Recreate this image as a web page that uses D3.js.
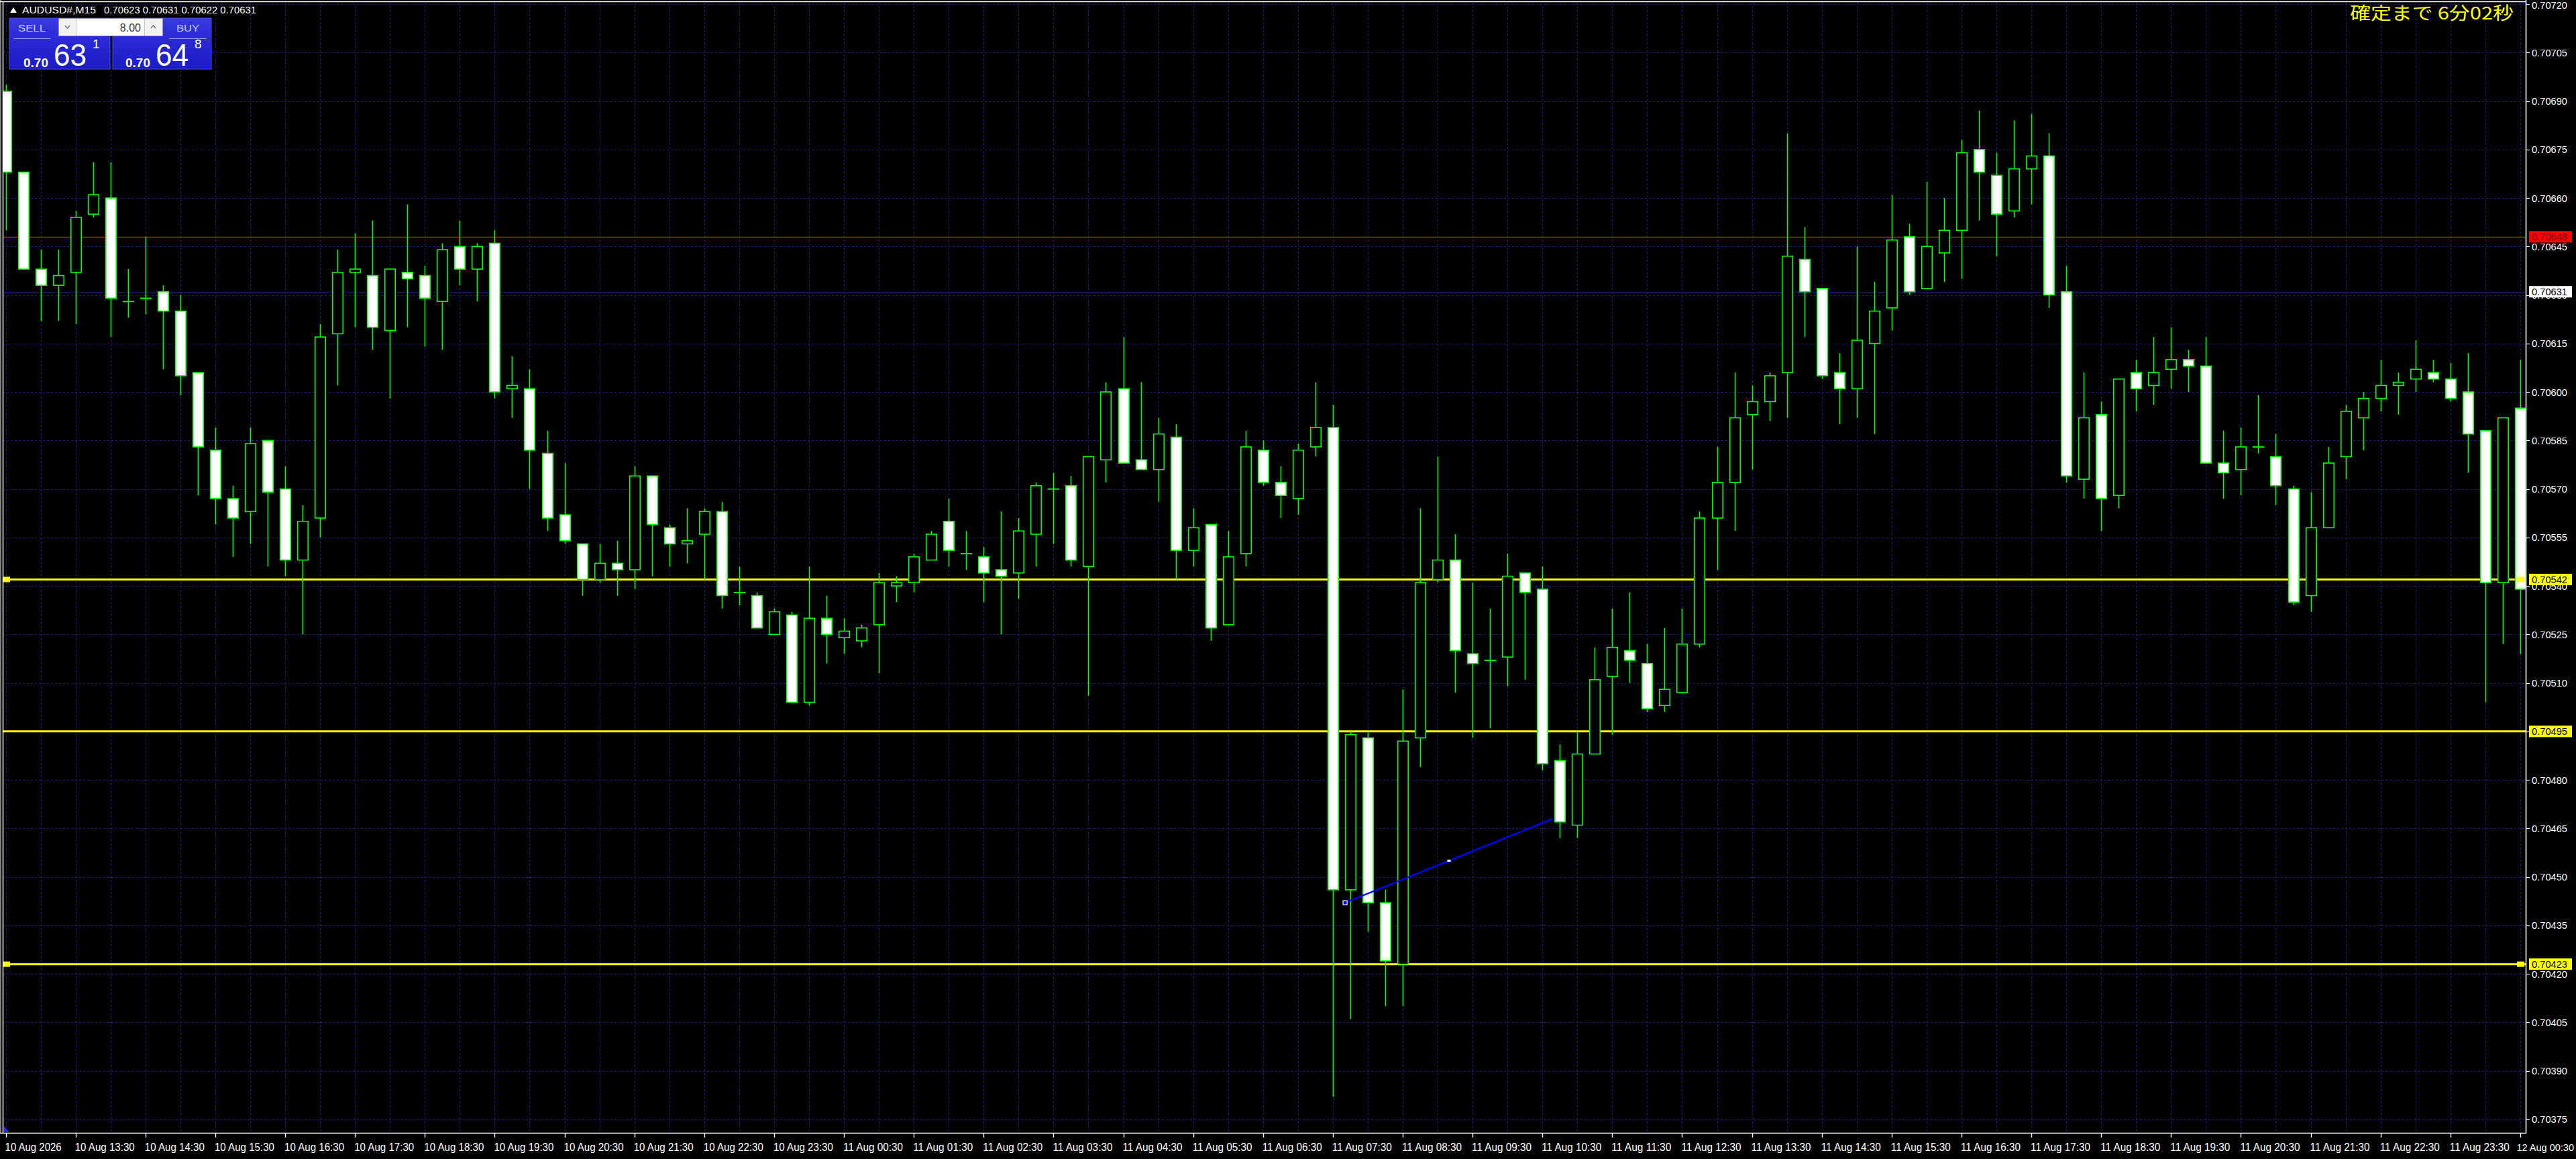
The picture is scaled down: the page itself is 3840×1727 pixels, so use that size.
<!DOCTYPE html>
<html><head><meta charset="utf-8">
<script src="https://cdn.jsdelivr.net/npm/d3@7"></script>
<style>html,body{margin:0;padding:0;background:#000;overflow:hidden}svg{display:block}</style>
</head><body><svg id="c" width="3840" height="1727"></svg>
<script>
// ---------------- DATA ----------------
const symbolTitle = "AUDUSD#,M15";
const headerQuote = "0.70623 0.70631 0.70622 0.70631";
const startTime = "2026-08-10T12:30:00"; // first visible M15 bar
const open = [0.70693,0.70668,0.70638,0.70633,0.70637,0.70655,0.70660,0.70628,0.70629,0.70631,
0.70625,0.70606,0.70582,0.70567,0.70563,0.70585,0.70570,0.70548,0.70561,0.70618,
0.70637,0.70636,0.70619,0.70637,0.70636,0.70628,0.70645,0.70638,0.70646,0.70601,
0.70601,0.70581,0.70562,0.70553,0.70542,0.70547,0.70545,0.70574,0.70558,0.70553,
0.70556,0.70563,0.70538,0.70537,0.70525,0.70531,0.70504,0.70530,0.70524,0.70523,
0.70528,0.70540,0.70541,0.70548,0.70560,0.70550,0.70549,0.70545,0.70544,0.70556,
0.70570,0.70571,0.70546,0.70579,0.70601,0.70579,0.70576,0.70586,0.70551,0.70559,
0.70528,0.70550,0.70582,0.70572,0.70567,0.70583,0.70589,0.70446,0.70493,0.70442,
0.70423,0.70493,0.70542,0.70548,0.70519,0.70517,0.70518,0.70544,0.70539,0.70486,
0.70466,0.70488,0.70512,0.70520,0.70516,0.70503,0.70507,0.70522,0.70561,0.70572,
0.70593,0.70597,0.70606,0.70641,0.70632,0.70606,0.70601,0.70615,0.70626,0.70648,
0.70632,0.70643,0.70650,0.70675,0.70667,0.70656,0.70669,0.70673,0.70631,0.70573,
0.70593,0.70568,0.70606,0.70602,0.70607,0.70610,0.70608,0.70578,0.70576,0.70583,
0.70580,0.70570,0.70537,0.70558,0.70580,0.70592,0.70598,0.70602,0.70604,0.70606,
0.70604,0.70600,0.70588,0.70541,0.70595];
const high = [0.70695,0.70668,0.70644,0.70644,0.70656,0.70671,0.70671,0.70638,0.70648,0.70633,
0.70630,0.70606,0.70589,0.70571,0.70589,0.70585,0.70577,0.70565,0.70621,0.70644,
0.70649,0.70653,0.70638,0.70658,0.70639,0.70646,0.70653,0.70646,0.70650,0.70611,
0.70607,0.70588,0.70578,0.70553,0.70553,0.70554,0.70577,0.70574,0.70559,0.70564,
0.70564,0.70566,0.70546,0.70538,0.70533,0.70532,0.70546,0.70537,0.70530,0.70528,
0.70544,0.70543,0.70550,0.70557,0.70567,0.70557,0.70552,0.70563,0.70561,0.70572,
0.70575,0.70574,0.70580,0.70603,0.70617,0.70603,0.70592,0.70590,0.70564,0.70559,
0.70557,0.70588,0.70585,0.70577,0.70584,0.70603,0.70596,0.70495,0.70495,0.70446,
0.70508,0.70564,0.70580,0.70556,0.70541,0.70533,0.70550,0.70544,0.70546,0.70491,
0.70495,0.70521,0.70533,0.70538,0.70522,0.70527,0.70533,0.70563,0.70583,0.70606,
0.70602,0.70606,0.70680,0.70651,0.70632,0.70612,0.70645,0.70634,0.70661,0.70652,
0.70665,0.70660,0.70678,0.70687,0.70674,0.70684,0.70686,0.70680,0.70639,0.70606,
0.70597,0.70604,0.70610,0.70617,0.70620,0.70613,0.70617,0.70588,0.70589,0.70599,
0.70587,0.70571,0.70569,0.70583,0.70596,0.70600,0.70610,0.70606,0.70616,0.70610,
0.70609,0.70612,0.70588,0.70592,0.70610];
const low = [0.70650,0.70638,0.70622,0.70622,0.70621,0.70654,0.70617,0.70623,0.70624,0.70607,
0.70599,0.70568,0.70559,0.70549,0.70553,0.70546,0.70543,0.70525,0.70555,0.70602,
0.70620,0.70613,0.70598,0.70620,0.70614,0.70613,0.70633,0.70628,0.70598,0.70592,
0.70570,0.70557,0.70553,0.70537,0.70541,0.70537,0.70539,0.70543,0.70546,0.70547,
0.70542,0.70533,0.70534,0.70527,0.70525,0.70504,0.70503,0.70516,0.70519,0.70521,
0.70513,0.70535,0.70538,0.70548,0.70546,0.70545,0.70535,0.70525,0.70536,0.70546,
0.70553,0.70546,0.70506,0.70572,0.70578,0.70576,0.70566,0.70542,0.70546,0.70523,
0.70528,0.70546,0.70571,0.70561,0.70562,0.70580,0.70382,0.70406,0.70433,0.70410,
0.70410,0.70484,0.70541,0.70507,0.70493,0.70496,0.70509,0.70511,0.70483,0.70462,
0.70462,0.70488,0.70494,0.70510,0.70501,0.70501,0.70507,0.70521,0.70545,0.70557,
0.70576,0.70591,0.70592,0.70617,0.70604,0.70590,0.70592,0.70587,0.70619,0.70630,
0.70632,0.70634,0.70635,0.70653,0.70642,0.70654,0.70658,0.70626,0.70572,0.70567,
0.70557,0.70564,0.70594,0.70596,0.70601,0.70600,0.70578,0.70567,0.70568,0.70581,
0.70565,0.70534,0.70532,0.70558,0.70573,0.70582,0.70594,0.70593,0.70600,0.70603,
0.70597,0.70575,0.70504,0.70522,0.70519];
const close = [0.70668,0.70638,0.70633,0.70636,0.70654,0.70661,0.70629,0.70628,0.70629,0.70625,
0.70605,0.70583,0.70567,0.70561,0.70584,0.70569,0.70548,0.70560,0.70617,0.70637,
0.70638,0.70620,0.70638,0.70635,0.70629,0.70644,0.70638,0.70645,0.70600,0.70602,
0.70582,0.70561,0.70554,0.70542,0.70547,0.70545,0.70574,0.70559,0.70553,0.70554,
0.70563,0.70537,0.70538,0.70527,0.70532,0.70504,0.70530,0.70525,0.70526,0.70527,
0.70541,0.70541,0.70549,0.70556,0.70551,0.70550,0.70544,0.70543,0.70557,0.70571,
0.70570,0.70548,0.70580,0.70600,0.70578,0.70576,0.70587,0.70551,0.70558,0.70527,
0.70549,0.70583,0.70572,0.70568,0.70582,0.70589,0.70446,0.70494,0.70442,0.70424,
0.70492,0.70541,0.70548,0.70520,0.70516,0.70517,0.70543,0.70538,0.70485,0.70467,
0.70488,0.70511,0.70521,0.70517,0.70502,0.70508,0.70522,0.70561,0.70572,0.70592,
0.70597,0.70605,0.70642,0.70631,0.70605,0.70601,0.70616,0.70625,0.70647,0.70631,
0.70645,0.70650,0.70674,0.70668,0.70655,0.70669,0.70673,0.70630,0.70574,0.70592,
0.70567,0.70604,0.70601,0.70606,0.70610,0.70608,0.70578,0.70575,0.70583,0.70583,
0.70571,0.70535,0.70558,0.70578,0.70594,0.70598,0.70602,0.70603,0.70607,0.70604,
0.70598,0.70587,0.70541,0.70592,0.70539];
const priceTicks = [0.70375,0.70390,0.70405,0.70420,0.70435,0.70450,0.70465,0.70480,0.70495,0.70510,
0.70525,0.70540,0.70555,0.70570,0.70585,0.70600,0.70615,0.70630,0.70645,0.70660,0.70675,0.70690,0.70705,0.70720];
const timeTickLabels = ["10 Aug 2026","10 Aug 13:30","10 Aug 14:30","10 Aug 15:30","10 Aug 16:30","10 Aug 17:30",
"10 Aug 18:30","10 Aug 19:30","10 Aug 20:30","10 Aug 21:30","10 Aug 22:30","10 Aug 23:30",
"11 Aug 00:30","11 Aug 01:30","11 Aug 02:30","11 Aug 03:30","11 Aug 04:30","11 Aug 05:30",
"11 Aug 06:30","11 Aug 07:30","11 Aug 08:30","11 Aug 09:30","11 Aug 10:30","11 Aug 11:30",
"11 Aug 12:30","11 Aug 13:30","11 Aug 14:30","11 Aug 15:30","11 Aug 16:30","11 Aug 17:30",
"11 Aug 18:30","11 Aug 19:30","11 Aug 20:30","11 Aug 21:30","11 Aug 22:30","11 Aug 23:30","12 Aug 00:30"];
const yellowLevels = [0.70542, 0.70495, 0.70423];
const anchoredLevels = [0.70542, 0.70423];
const redLevel = 0.70648;
const bidPrice = 0.70631;
const trendBars = [76.7, 88.6];      // bar index (fractional) of trend line ends
const trendPrices = [0.70442, 0.70468];
const sellPrice = ["0.70", "63", "1"];
const buyPrice = ["0.70", "64", "8"];
const lotSize = "8.00";
const countdown = "確定まで 6分02秒";

// ---------------- SCALES ----------------
const svg = d3.select("#c");
const L = 4, T = 3, R = 3765, B = 1688;
const t0 = new Date(startTime);
const times = open.map((_, i) => d3.timeMinute.offset(t0, 15 * i));
const x = d3.scaleTime().domain([times[0], times[times.length - 1]]).range([8.6, 3756.9]);
const y = d3.scaleLinear().domain([0.70375, 0.70690]).range([1667.9, 150.5]);
const tAt = idx => new Date(t0.getTime() + idx * 15 * 60000);
const px = v => Math.round(v) + 0.5;

const defs = svg.append("defs");
defs.append("clipPath").attr("id", "plotClip").append("rect")
  .attr("x", L + 1).attr("y", T + 1).attr("width", R - L - 1).attr("height", B - T - 1);
const grad = defs.append("linearGradient").attr("id", "panelGrad").attr("x1", 0).attr("y1", 0).attr("x2", 0).attr("y2", 1);
grad.append("stop").attr("offset", "0%").attr("stop-color", "#3a3ae2");
grad.append("stop").attr("offset", "40%").attr("stop-color", "#2a2ad6");
grad.append("stop").attr("offset", "100%").attr("stop-color", "#1c1cc6");

svg.append("rect").attr("width", 3840).attr("height", 1727).attr("fill", "#000");

const plot = svg.append("g").attr("clip-path", "url(#plotClip)");

// grid
const gridColor = "#1c1c7a";
plot.append("g").selectAll("line").data(priceTicks).join("line")
  .attr("x1", L).attr("x2", R).attr("y1", d => px(y(d))).attr("y2", d => px(y(d)))
  .attr("stroke", gridColor).attr("stroke-width", 1.2).attr("stroke-dasharray", "3 3");
plot.append("g").selectAll("line").data(times.filter((d, i) => i % 2 === 0)).join("line")
  .attr("x1", d => px(x(d))).attr("x2", d => px(x(d))).attr("y1", T).attr("y2", B)
  .attr("stroke", gridColor).attr("stroke-width", 1.2).attr("stroke-dasharray", "3 3");

// bid line, red level, yellow levels
plot.append("line").attr("x1", L).attr("x2", R).attr("y1", px(y(bidPrice))).attr("y2", px(y(bidPrice)))
  .attr("stroke", "#16166c").attr("stroke-width", 1.2);
plot.append("line").attr("x1", L).attr("x2", R).attr("y1", px(y(redLevel))).attr("y2", px(y(redLevel)))
  .attr("stroke", "#cc1010").attr("stroke-width", 1.6);
plot.append("g").selectAll("line").data(yellowLevels).join("line")
  .attr("x1", L).attr("x2", R).attr("y1", d => y(d)).attr("y2", d => y(d))
  .attr("stroke", "#ffff00").attr("stroke-width", 3);

// candles
const bodyW = 15.5;
plot.append("g").selectAll("line").data(times).join("line")
  .attr("x1", d => px(x(d))).attr("x2", d => px(x(d)))
  .attr("y1", (d, i) => y(high[i])).attr("y2", (d, i) => y(low[i]))
  .attr("stroke", "#00ff00").attr("stroke-width", 1.6);
plot.append("g").selectAll("rect").data(times).join("rect")
  .attr("x", d => px(x(d)) - bodyW / 2).attr("width", bodyW)
  .attr("y", (d, i) => y(Math.max(open[i], close[i])))
  .attr("height", (d, i) => Math.max(0.3, Math.abs(y(open[i]) - y(close[i]))))
  .attr("fill", (d, i) => close[i] < open[i] ? "#ffffff" : "#000000")
  .attr("stroke", "#00ff00").attr("stroke-width", 1.6);

// level anchors
plot.append("g").selectAll("rect").data(anchoredLevels).join("rect")
  .attr("x", L + 1).attr("y", d => y(d) - 4).attr("width", 10).attr("height", 8).attr("fill", "#ffff00");
svg.append("g").selectAll("rect").data(anchoredLevels).join("rect")
  .attr("x", 3752).attr("y", d => y(d) - 4).attr("width", 11).attr("height", 8).attr("fill", "#ffff00");

// trend line
const tx = trendBars.map(b => x(tAt(b)));
const ty = trendPrices.map(p => y(p));
plot.append("line").attr("x1", tx[0]).attr("y1", ty[0]).attr("x2", tx[1]).attr("y2", ty[1])
  .attr("stroke", "#0000ff").attr("stroke-width", 2.5);
plot.append("rect").attr("x", tx[0] - 3).attr("y", ty[0] - 3).attr("width", 6).attr("height", 6)
  .attr("fill", "#0000ff").attr("stroke", "#ffffff").attr("stroke-width", 1.2);
plot.append("rect").attr("x", (tx[0] + tx[1]) / 2 - 3).attr("y", (ty[0] + ty[1]) / 2 - 2).attr("width", 6).attr("height", 4)
  .attr("fill", "#ffffff").attr("stroke", "#0000ff").attr("stroke-width", 1);

// frame
svg.append("line").attr("x1", 1).attr("x2", 1).attr("y1", 0).attr("y2", B).attr("stroke", "#808080").attr("stroke-width", 2);
svg.append("line").attr("x1", L + 0.5).attr("x2", L + 0.5).attr("y1", T).attr("y2", B).attr("stroke", "#ffffff").attr("stroke-width", 1.5);
svg.append("line").attr("x1", 0).attr("x2", R).attr("y1", T - 0.5).attr("y2", T - 0.5).attr("stroke", "#ffffff").attr("stroke-width", 1.5);
svg.append("polygon").attr("points", `${L + 2},${B - 10} ${L + 2},${B - 1} ${L + 10},${B - 1}`).attr("fill", "#2a2aff");

// price axis
const axisFont = "'Liberation Sans', Arial, sans-serif";
const pa = svg.append("g");
pa.append("line").attr("x1", R + 0.5).attr("x2", R + 0.5).attr("y1", 0).attr("y2", B + 1).attr("stroke", "#ffffff").attr("stroke-width", 1.6);
pa.selectAll("line.t").data(priceTicks).join("line").attr("class", "t")
  .attr("x1", R).attr("x2", R + 6).attr("y1", d => px(y(d))).attr("y2", d => px(y(d)))
  .attr("stroke", "#ffffff").attr("stroke-width", 1.2);
pa.selectAll("text").data(priceTicks).join("text")
  .attr("x", R + 9).attr("y", d => Math.max(y(d) + 5.5, 13))
  .attr("fill", "#ffffff").attr("font-family", axisFont).attr("font-size", 14.5)
  .attr("textLength", 53).attr("lengthAdjust", "spacingAndGlyphs")
  .text(d => d3.format(".5f")(d));

function priceBox(p, bg, fg) {
  const g = svg.append("g");
  g.append("rect").attr("x", R + 5).attr("y", y(p) - 8.5).attr("width", 64).attr("height", 17).attr("fill", bg);
  g.append("text").attr("x", R + 9).attr("y", y(p) + 5.5).attr("fill", fg)
    .attr("font-family", axisFont).attr("font-size", 14.5)
    .attr("textLength", 53).attr("lengthAdjust", "spacingAndGlyphs")
    .text(d3.format(".5f")(p));
}
priceBox(redLevel, "#ff0000", "#7a0000");
priceBox(bidPrice, "#ffffff", "#000000");
yellowLevels.forEach(p => priceBox(p, "#ffff00", "#000000"));

// time axis
const ta = svg.append("g");
ta.append("line").attr("x1", 0).attr("x2", R + 1).attr("y1", B + 0.5).attr("y2", B + 0.5).attr("stroke", "#ffffff").attr("stroke-width", 1.6);
const tickTimes = timeTickLabels.map((lab, k) => times[k * 4]);
ta.selectAll("line.t").data(tickTimes).join("line").attr("class", "t")
  .attr("x1", d => px(x(d))).attr("x2", d => px(x(d))).attr("y1", B).attr("y2", B + 7)
  .attr("stroke", "#ffffff").attr("stroke-width", 1.4);
const lastK = timeTickLabels.length - 1;
const mainLabels = tickTimes.slice(0, lastK);
ta.selectAll("text.m").data(mainLabels).join("text").attr("class", "m")
  .attr("x", d => x(d) - 1).attr("y", B + 27)
  .attr("fill", "#ffffff").attr("font-family", axisFont).attr("font-size", 17)
  .attr("textLength", (d, k) => k === 0 ? 84 : 89).attr("lengthAdjust", "spacingAndGlyphs")
  .text((d, k) => timeTickLabels[k]);
// last label: smaller so it stays inside the picture
ta.append("text").attr("x", 3840 - 3).attr("y", B + 27).attr("text-anchor", "end")
  .attr("fill", "#ffffff").attr("font-family", axisFont).attr("font-size", 14.5)
  .text(timeTickLabels[lastK]);

// countdown
svg.append("text").attr("x", 3503).attr("y", 29).attr("fill", "#ffff00")
  .attr("font-family", "'Noto Sans CJK JP', sans-serif").attr("font-size", 26)
  .attr("textLength", 244).attr("lengthAdjust", "spacingAndGlyphs").text(countdown);

// header
const hdr = svg.append("g").attr("font-family", axisFont).attr("fill", "#ffffff");
hdr.append("path").attr("d", "M15,19 L20,11 L25,19 Z").attr("fill", "#ffffff");
hdr.append("text").attr("x", 33).attr("y", 20).attr("font-size", 15).attr("textLength", 110).attr("lengthAdjust", "spacingAndGlyphs").text(symbolTitle);
hdr.append("text").attr("x", 155).attr("y", 20).attr("font-size", 15).attr("textLength", 227).attr("lengthAdjust", "spacingAndGlyphs").text(headerQuote);

// one-click trading panel
const pnl = svg.append("g").attr("font-family", axisFont);
pnl.append("rect").attr("x", 14).attr("y", 27).attr("width", 150).attr("height", 76).attr("fill", "url(#panelGrad)").attr("stroke", "#4a4af0").attr("stroke-width", 1);
pnl.append("rect").attr("x", 168).attr("y", 27).attr("width", 147).attr("height", 76).attr("fill", "url(#panelGrad)").attr("stroke", "#4a4af0").attr("stroke-width", 1);
pnl.append("text").attr("x", 27).attr("y", 47).attr("font-size", 15).attr("fill", "#c4d0ff").attr("textLength", 41).attr("lengthAdjust", "spacingAndGlyphs").text("SELL");
pnl.append("text").attr("x", 263).attr("y", 47).attr("font-size", 15).attr("fill", "#c4d0ff").attr("textLength", 34).attr("lengthAdjust", "spacingAndGlyphs").text("BUY");
pnl.append("line").attr("x1", 20).attr("x2", 76).attr("y1", 57.5).attr("y2", 57.5).attr("stroke", "#8a9aff").attr("stroke-width", 1);
pnl.append("line").attr("x1", 252).attr("x2", 308).attr("y1", 57.5).attr("y2", 57.5).attr("stroke", "#8a9aff").attr("stroke-width", 1);
// lot box
pnl.append("rect").attr("x", 87.5).attr("y", 27.5).attr("width", 155).attr("height", 26).attr("fill", "#ffffff").attr("stroke", "#9a9a9a");
pnl.append("rect").attr("x", 88).attr("y", 28).attr("width", 25).attr("height", 25).attr("fill", "#f2f2f2");
pnl.append("rect").attr("x", 216).attr("y", 28).attr("width", 26).attr("height", 25).attr("fill", "#f2f2f2");
pnl.append("line").attr("x1", 113.5).attr("x2", 113.5).attr("y1", 28).attr("y2", 53).attr("stroke", "#c8c8c8");
pnl.append("line").attr("x1", 215.5).attr("x2", 215.5).attr("y1", 28).attr("y2", 53).attr("stroke", "#c8c8c8");
pnl.append("path").attr("d", "M97,38 L100.5,42 L104,38").attr("fill", "none").attr("stroke", "#666").attr("stroke-width", 1.3);
pnl.append("path").attr("d", "M225,42 L228.5,38 L232,42").attr("fill", "none").attr("stroke", "#666").attr("stroke-width", 1.3);
pnl.append("text").attr("x", 210).attr("y", 47).attr("text-anchor", "end").attr("font-size", 16).attr("fill", "#333").text(lotSize);
// prices
function quote(x0, parts) {
  pnl.append("text").attr("x", x0).attr("y", 100).attr("font-size", 18).attr("font-weight", "bold").attr("fill", "#fff")
    .attr("textLength", 37).attr("lengthAdjust", "spacingAndGlyphs").text(parts[0]);
  pnl.append("text").attr("x", x0 + 45).attr("y", 98).attr("font-size", 46).attr("fill", "#fff")
    .attr("textLength", 49).attr("lengthAdjust", "spacingAndGlyphs").text(parts[1]);
  pnl.append("text").attr("x", x0 + 103).attr("y", 72).attr("font-size", 19).attr("fill", "#fff").text(parts[2]);
}
quote(35, sellPrice);
quote(187, buyPrice);
</script></body></html>
